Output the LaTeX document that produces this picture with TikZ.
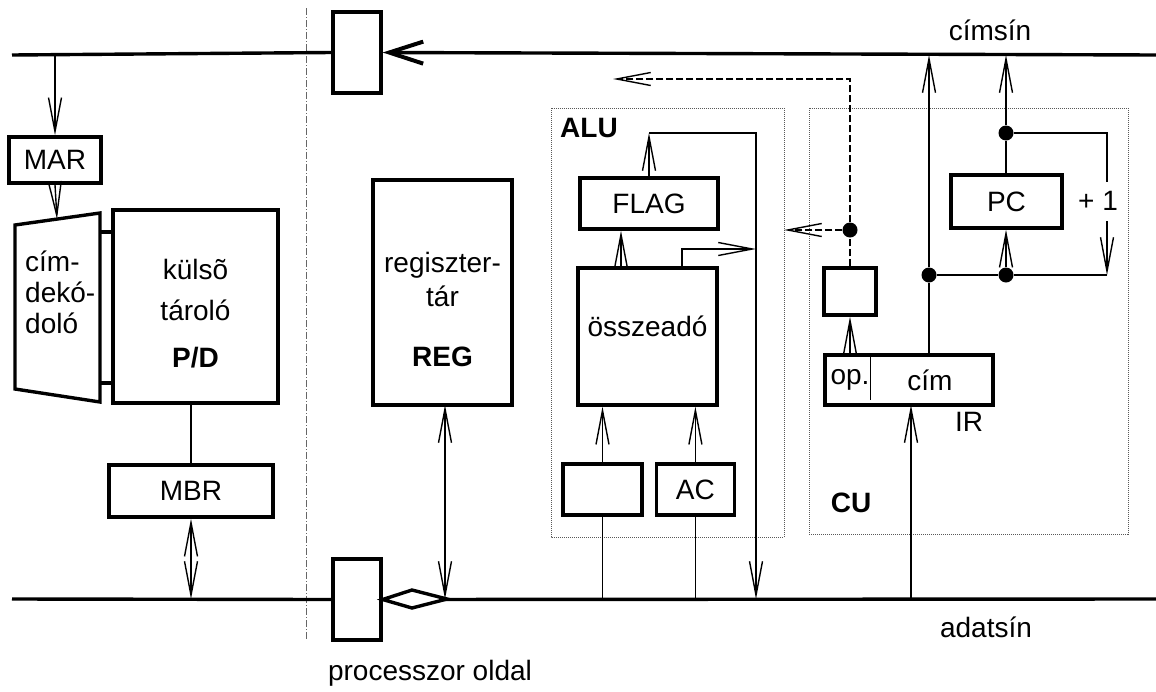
\documentclass[tikz,border=0pt]{standalone}
\usepackage{fontspec}
\setmainfont{Liberation Sans}
\usetikzlibrary{arrows.meta,positioning,calc}

\begin{document}
\begin{tikzpicture}[x=1pt, y=-1pt, >={Straight Barb[length=34pt,width=13pt]}, font=\fontsize{28}{31}\selectfont]
        \tikzset{
            reg/.style={draw, rectangle, line width=3.4pt, inner sep=0pt, align=center},
            bus/.style={line width=3.4pt},
            wire/.style={line width=1.4pt},
            ctrl/.style={wire, dash pattern=on 7pt off 3pt},
            unit/.style={draw, densely dotted, line width=1pt, black!65},
            divider/.style={line width=0.9pt, black!60, dash pattern=on 7pt off 2pt on 1pt off 2pt},
            dot/.style={circle, fill, inner sep=0pt, minimum size=15pt},
            txt/.style={inner sep=1pt, align=center}
        }
        \useasboundingbox (0,0) rectangle (1156,691);

        % Buses
        \coordinate (abus-w) at (12,55);
        \coordinate (abus-e) at (1156,55);
        \coordinate (dbus-w) at (12,599);
        \coordinate (dbus-e) at (1156,599);

        % Dotted units
        \draw [unit] (551,108) rectangle (784,537);
        \draw [unit] (809,108) rectangle (1128,534);
        \draw [divider] (306,8) -- (306,640);

        % Nodes
        \node [reg, minimum width=48pt, minimum height=81pt] (abuf) at (357,52.5) {};
        \node [reg, minimum width=48pt, minimum height=81pt] (dbuf) at (357,599.5) {};

        \node [reg, minimum width=92pt, minimum height=46pt] (mar) at (55,160) {MAR};
        \node [reg, minimum width=165pt, minimum height=193pt] (mem) at (195.5,306.5) {};
        \node [txt] (memtxt) at (195.5,314) {külsõ\\[10pt]tároló\\[16pt]\textbf{P/D}};
        \node [reg, minimum width=164pt, minimum height=52pt] (mbr) at (191,491) {MBR};

        \coordinate (dec-nw) at (15,225);
        \coordinate (dec-ne) at (100,213);
        \coordinate (dec-se) at (100,402);
        \coordinate (dec-sw) at (15,389);
        \draw [line width=3.4pt, line join=miter] (dec-nw) -- (dec-ne) -- (dec-se) -- (dec-sw) -- cycle;
        \node [txt, anchor=west, align=left] (dectxt) at (24,292) {cím-\\dekó-\\doló};

        \node [reg, minimum width=139pt, minimum height=225pt] (regs) at (442.5,292.5) {};
        \node [txt] (regstxt) at (442.5,309) {regiszter-\\[3pt]tár\\[29pt]\textbf{REG}};

        \node [reg, minimum width=138pt, minimum height=51pt] (flag) at (649,203.5) {FLAG};
        \node [reg, minimum width=139pt, minimum height=137pt] (adder) at (647.5,336.5) {};
        \node [txt] (addertxt) at (647.5,326) {összeadó};
        \node [reg, minimum width=79pt, minimum height=51pt] (opnd) at (602.5,489.5) {};
        \node [reg, minimum width=78pt, minimum height=51pt, right=11pt of opnd] (ac) {AC};

        \node [reg, minimum width=52pt, minimum height=47pt] (opdec) at (850,291.5) {};
        \node [reg, minimum width=168pt, minimum height=50pt] (ir) at (909,380) {};
        \node [txt] (irop) at (850,380) {op.};
        \node [txt] (iraddr) at (930,380) {cím};
        \node [reg, minimum width=111pt, minimum height=53pt] (pc) at (1006.5,201.5) {PC};

        \node [dot] (opdot) at (850,230) {};
        \node [dot] (irdot) at (929,275) {};
        \node [dot] (pcin) at (1006,275) {};
        \node [dot] (pcout) at (1006,133) {};

        % Labels
        \node [txt] (alulbl) at (589,128) {\textbf{ALU}};
        \node [txt] (culbl) at (851,503) {\textbf{CU}};
        \node [txt] (irlbl) at (969,422) {IR};
        \node [txt] (abuslbl) at (990,30) {címsín};
        \node [txt] (dbuslbl) at (986,627) {adatsín};
        \node [txt] (cpulbl) at (430,673) {processzor oldal};

        % Buses
        \draw [bus] (abus-w) -- (abuf.west);
        \draw [bus, -{Straight Barb[length=34pt,width=22pt,line width=4pt]}] (abus-e) -- (abuf.east);
        \draw [bus] (dbus-w) -- (dbuf.west);
        \draw [bus] (dbuf.east) -- (dbus-e);
        \draw [line width=3.4pt, fill=white, line join=miter] (dbuf.east) -- (412,590) -- (447,599) -- (412,608) -- cycle;

        % Memory side
        \draw [wire, ->] (mar.north |- abus-w) -- (mar.north);
        \draw [wire, ->] (mar.south) -- (57,219);
        \draw [line width=3.4pt] (dec-ne |- 0,232) -- (mem.west |- 0,232);
        \draw [line width=3.4pt] (dec-ne |- 0,383) -- (mem.west |- 0,383);
        \draw [wire] (mbr.north |- mem.south) -- (mbr.north);
        \draw [wire, <->] (mbr.south) -- (mbr.south |- dbus-w);
        \draw [wire, <->] (445,405) -- (445,599);

        % ALU
        \draw [wire] (opnd.south |- dbus-w) -- (opnd.south);
        \draw [wire, ->] (opnd.north) -- (opnd.north |- adder.south);
        \draw [wire] (ac.south |- dbus-w) -- (ac.south);
        \draw [wire, ->] (ac.north) -- (ac.north |- adder.south);
        \draw [wire, ->] ($(adder.north)+(-26.5,0)$) -- ($(flag.south)+(-28,0)$);
        \coordinate (fb) at (756,133);
        \draw [wire, ->] (flag.north) -- (flag.north |- fb);
        \draw [wire, ->] (flag.north |- fb) -- (fb) -- (fb |- dbus-w);
        \draw [wire, ->] ($(adder.north)+(34.5,0)$) |- (fb |- 0,249);

        % CU
        \draw [ctrl] (opdec.north) -- (opdot);
        \draw [ctrl, ->] (opdot) -- (850,79) -- (613,79);
        \draw [ctrl, ->] (opdot) -- (784,230);
        \draw [wire, ->] (opdec.south |- ir.north) -- (opdec.south);
        \draw [wire] ($(ir.north west)+(47,0)$) -- ($(ir.south west)+(47,-7)$);
        \draw [wire, ->] (911,599) -- (911,405);
        \draw [wire] ($(ir.north)+(20,0)$) -- (irdot);
        \draw [wire, ->] (irdot) -- (irdot |- abus-w);
        \draw [wire] (irdot) -- (pcin);
        \draw [wire, ->] (pcin) -- (pcin |- pc.south);
        \draw [wire] (pcin |- pc.north) -- (pcout);
        \draw [wire, ->] (pcout) -- (pcout |- abus-w);

        % Increment
        \coordinate (inc) at (1107,275);
        \draw [wire, ->] (pcout) -| node [pos=0.74, fill=white, xshift=-9pt, inner xsep=1pt, inner ysep=10pt] (inclbl) {+ 1} (inc);
        \draw [wire] (inc) -- (pcin);
    \end{tikzpicture}
\end{document}
